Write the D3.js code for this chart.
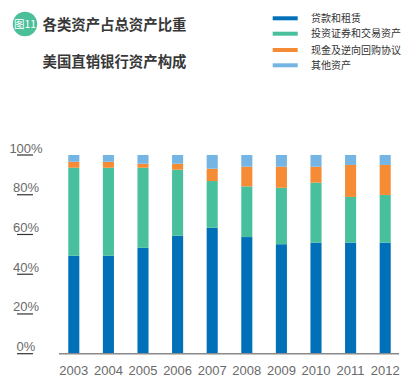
<!DOCTYPE html>
<html><head><meta charset="utf-8">
<script src="https://cdn.jsdelivr.net/npm/d3@7/dist/d3.min.js"></script>
<style>body{margin:0;background:#fff;}svg{display:block;}</style>
</head><body>
<svg id="c" width="410" height="383"></svg>
<script>
const years = ["2003","2004","2005","2006","2007","2008","2009","2010","2011","2012"];
const loans      = [49.3, 49.3, 53.3, 59.4, 63.4, 58.7, 55.1, 55.9, 55.9, 55.9];
const securities = [44.3, 44.3, 40.3, 33.2, 23.5, 25.5, 28.4, 30.2, 23.0, 24.0];
const cash       = [3.0, 3.0, 2.0, 3.0, 6.2, 9.9, 10.6, 8.0, 16.1, 15.1];
const other      = [3.4, 3.4, 4.4, 4.4, 6.9, 5.9, 5.9, 5.9, 5.0, 5.0];
const seriesNames = ["贷款和租赁","投资证券和交易资产","现金及逆向回购协议","其他资产"];
const colors = ["#0070b9","#48bf9d","#f68b35","#74b5e4"];
const yTicks = [0,20,40,60,80,100];
const titleLines = ["各类资产占总资产比重","美国直销银行资产构成"];
const badge = "图11";

const svg = d3.select("#c");
const keys = ["loans","securities","cash","other"];
const rows = years.map((y,i)=>({year:y, loans:loans[i], securities:securities[i], cash:cash[i], other:other[i]}));
const stack = d3.stack().keys(keys)(rows);

const x = d3.scaleBand().domain(years).range([56.5,402.5]).paddingInner(0.68).paddingOuter(0.34);
const y = d3.scaleLinear().domain([0,100]).range([353.7,155]);

// bars
svg.append("g").selectAll("g").data(stack).join("g")
  .attr("fill",(d,i)=>colors[i])
  .selectAll("rect").data(d=>d).join("rect")
  .attr("x",d=>x(d.data.year))
  .attr("width",x.bandwidth())
  .attr("y",d=>y(d[1]))
  .attr("height",d=>y(d[0])-y(d[1]));

// baseline
svg.append("line").attr("x1",59).attr("x2",399).attr("y1",y(0)).attr("y2",y(0))
  .attr("stroke","#8a8a8a").attr("stroke-width",1.5);

// x labels
svg.append("g").selectAll("text").data(years).join("text")
  .attr("x",d=>x(d)+x.bandwidth()/2).attr("y",375)
  .attr("text-anchor","middle").attr("font-family","Liberation Sans, Arial, sans-serif")
  .attr("font-size",13).attr("fill","#6a6a6a").text(d=>d);

// y ticks
const yg = svg.append("g").selectAll("g").data(yTicks).join("g");
yg.append("line").attr("x1",17).attr("x2",33).attr("y1",d=>y(d)).attr("y2",d=>y(d))
  .attr("stroke","#333").attr("stroke-width",1.2);
yg.append("text").attr("x",26).attr("y",d=>y(d)-2.5).attr("text-anchor","middle")
  .attr("font-family","Liberation Sans, Arial, sans-serif").attr("font-size",13)
  .attr("fill","#6a6a6a").text(d=>d+"%");

// title
svg.append("circle").attr("cx",25).attr("cy",24).attr("r",12.2).attr("fill","#4bbf9a");
svg.append("text").attr("x",25).attr("y",28).attr("text-anchor","middle")
  .attr("font-family","Noto Sans CJK SC").attr("font-size",10.5).attr("fill","#fff").text(badge);
svg.append("g").selectAll("text").data(titleLines).join("text")
  .attr("x",42.5).attr("y",(d,i)=>[29.5,66.5][i])
  .attr("font-family","Noto Sans CJK SC").attr("font-weight","bold").attr("font-size",14.4)
  .attr("fill","#383838").text(d=>d);

// legend
const lg = svg.append("g").selectAll("g").data(seriesNames).join("g")
  .attr("transform",(d,i)=>`translate(0,${[18.3,33.7,50,65.3][i]})`);
lg.append("rect").attr("x",272.7).attr("y",-2).attr("width",25).attr("height",4).attr("fill",(d,i)=>colors[i]);
lg.append("text").attr("x",311).attr("y",3.6).attr("font-family","Noto Sans CJK SC")
  .attr("font-size",10).attr("fill","#333").text(d=>d);
</script>
</body></html>
